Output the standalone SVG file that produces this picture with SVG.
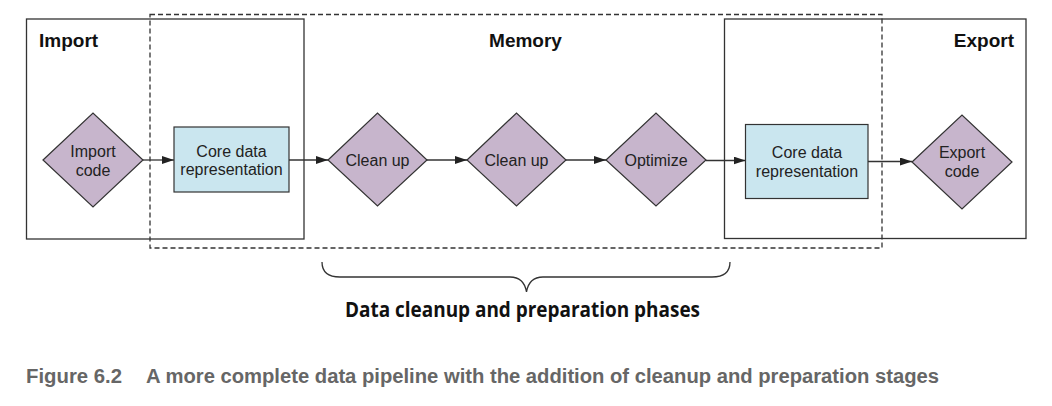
<svg xmlns="http://www.w3.org/2000/svg" width="1052" height="406" viewBox="0 0 1052 406">
<style>
.frame{fill:none;stroke:#333;stroke-width:1.3}
.dash{fill:none;stroke:#333;stroke-width:1.3;stroke-dasharray:5,3}
.dia{fill:#c7b5cc;stroke:#333;stroke-width:1.2}
.box{fill:#cae6ef;stroke:#333;stroke-width:1.2}
.lbl{font-family:"Liberation Sans",Arial,sans-serif;font-size:16px;fill:#222;text-anchor:middle}
.hdr{font-family:"Liberation Sans",Arial,sans-serif;font-size:19px;font-weight:bold;fill:#111}
.conn{fill:none;stroke:#333;stroke-width:1.3;marker-end:url(#arr)}
.note{font-family:"Open Sans","Liberation Sans",sans-serif;font-weight:bold;font-size:22px;fill:#111}
.cap{font-family:"Liberation Sans",Arial,sans-serif;font-weight:bold;font-size:20px;fill:#666}
</style>
<defs>
<marker id="arr" viewBox="0 0 12 8" refX="12" refY="4" markerWidth="12" markerHeight="8" markerUnits="userSpaceOnUse" orient="auto">
<path d="M0,0 L12,4 L0,8 Z" fill="#222"/>
</marker>
</defs>
<rect width="1052" height="406" fill="#fff"/>
<g id="import-zone">
<rect class="frame" x="26.5" y="19" width="277.5" height="220"/>
<text class="hdr" x="39" y="47">Import</text>
</g>
<g id="export-zone">
<rect class="frame" x="724.5" y="19" width="301.5" height="219.5"/>
<text class="hdr" x="1014" y="47" text-anchor="end">Export</text>
</g>
<g id="memory-zone">
<rect class="dash" x="150" y="14.5" width="732" height="233.5"/>
<text class="hdr" x="525.5" y="47" text-anchor="middle">Memory</text>
</g>
<g id="connectors">
<path class="conn" d="M143,160 H174"/>
<path class="conn" d="M289,160 H328"/>
<path class="conn" d="M427,160 H467"/>
<path class="conn" d="M566,160 H606"/>
<path class="conn" d="M706,160.5 H745.5"/>
<path class="conn" d="M868,161.5 H912"/>
</g>
<g id="import-code">
<polygon class="dia" points="43,160 93,113 143,160 93,207"/>
<text class="lbl" x="93" y="157">Import</text>
<text class="lbl" x="93" y="176">code</text>
</g>
<g id="core-data-1">
<rect class="box" x="174" y="127" width="115" height="65"/>
<text class="lbl" x="231.5" y="157">Core data</text>
<text class="lbl" x="231.5" y="175">representation</text>
</g>
<g id="clean-up-1">
<polygon class="dia" points="328,160 377.5,113 427,160 377.5,206"/>
<text class="lbl" x="377.5" y="166">Clean up</text>
</g>
<g id="clean-up-2">
<polygon class="dia" points="467,160 516.5,113 566,160 516.5,206"/>
<text class="lbl" x="516.5" y="166">Clean up</text>
</g>
<g id="optimize">
<polygon class="dia" points="606,160 656,113 706,160 656,206"/>
<text class="lbl" x="656" y="166">Optimize</text>
</g>
<g id="core-data-2">
<rect class="box" x="745.5" y="124.5" width="122.5" height="74"/>
<text class="lbl" x="807" y="158">Core data</text>
<text class="lbl" x="807" y="177">representation</text>
</g>
<g id="export-code">
<polygon class="dia" points="912,162 962,115 1012,162 962,209"/>
<text class="lbl" x="962" y="158">Export</text>
<text class="lbl" x="962" y="177">code</text>
</g>
<g id="phases-brace">
<path d="M322,262 Q322,277 340,277 H510 Q524,277 526.5,292 Q529,277 543,277 H712 Q730,277 730,262" fill="none" stroke="#333" stroke-width="1.3"/>
<text class="note" x="345" y="316.5" textLength="355" lengthAdjust="spacingAndGlyphs">Data cleanup and preparation phases</text>
</g>
<g id="caption">
<text class="cap" x="26" y="382.5" textLength="96" lengthAdjust="spacingAndGlyphs">Figure 6.2</text>
<text class="cap" x="146" y="382.5" textLength="793" lengthAdjust="spacingAndGlyphs">A more complete data pipeline with the addition of cleanup and preparation stages</text>
</g>
</svg>
